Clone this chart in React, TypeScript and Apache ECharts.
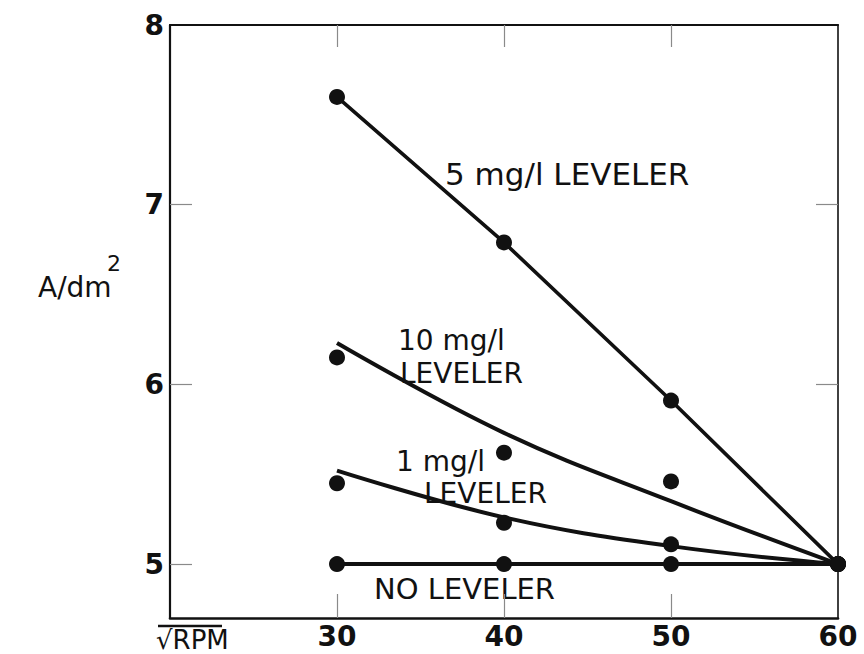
import React, { useEffect, useRef } from "react";
import * as echarts from "echarts";

// x positions (sqrt RPM)
const xValues = [30, 40, 50, 60];
const xLabelValues = [30, 40, 50, 60];
const yLabelValues = [5, 6, 7, 8];

// measured points (A/dm2)
const leveler5 = [7.6, 6.79, 5.91, 5.0];
const leveler10Points = [6.15, 5.62, 5.46, 5.0];
const leveler10Fit = [6.23, 5.73, 5.35, 5.0];
const leveler1Points = [5.45, 5.23, 5.11, 5.0];
const leveler1Fit = [5.52, 5.26, 5.1, 5.0];
const noLeveler = [5.0, 5.0, 5.0, 5.0];

const pairs = (ys: number[]) => xValues.map((x, i) => [x, ys[i]]);

const INK = "#111111";
const FONT = "DejaVu Sans, Liberation Sans, sans-serif";

export default function App() {
  const ref = useRef<HTMLDivElement>(null);
  useEffect(() => {
    if (!ref.current) return;
    const chart = echarts.init(ref.current, undefined, { renderer: "svg" });
    const tickStyle = { color: "#8a8a8a", width: 1.2 };
    const frame = { color: INK, width: 2.2 };
    const curve = (data: number[][], w: number, smooth: number | boolean) => ({
      type: "line",
      data,
      smooth,
      showSymbol: false,
      symbol: "none",
      lineStyle: { color: INK, width: w },
      z: 3,
    });
    const dots = (data: number[][]) => ({
      type: "scatter",
      data,
      symbol: "circle",
      symbolSize: 16,
      itemStyle: { color: INK, opacity: 1 },
      z: 4,
    });
    const text = (t: string, x: number, y: number, size = 30, weight = "normal") => ({
      type: "text",
      x,
      y,
      style: {
        text: t,
        font: `${weight} ${size}px ${FONT}`,
        fill: INK,
        textAlign: "left",
        textVerticalAlign: "middle",
      },
    });
    const labelStyle = { fontSize: 28, fontWeight: "bold", color: INK, fontFamily: FONT };
    chart.setOption({
      animation: false,
      backgroundColor: "#ffffff",
      grid: { left: 170, right: 26, top: 25, bottom: 36, containLabel: false, outerBoundsMode: "none" },
      xAxis: [
        {
          type: "value",
          min: 20,
          max: 60,
          position: "bottom",
          axisLine: { show: true, onZero: false, lineStyle: { color: INK, width: 2.6 } },
          axisTick: { show: true, inside: true, length: 24, customValues: [30, 40, 50], lineStyle: tickStyle },
          axisLabel: { show: true, customValues: xLabelValues, margin: 4, ...labelStyle },
          splitLine: { show: false },
        },
        {
          type: "value",
          min: 20,
          max: 60,
          position: "top",
          axisLine: { show: true, onZero: false, lineStyle: frame },
          axisTick: { show: true, inside: true, length: 22, customValues: [30, 40, 50], lineStyle: tickStyle },
          axisLabel: { show: false },
          splitLine: { show: false },
        },
      ],
      yAxis: [
        {
          type: "value",
          min: 4.7,
          max: 8,
          position: "left",
          axisLine: { show: true, onZero: false, lineStyle: frame },
          axisTick: { show: true, inside: true, length: 22, customValues: [5, 6, 7], lineStyle: tickStyle },
          axisLabel: { show: true, customValues: yLabelValues, margin: 6, ...labelStyle },
          splitLine: { show: false },
        },
        {
          type: "value",
          min: 4.7,
          max: 8,
          position: "right",
          axisLine: { show: true, onZero: false, lineStyle: { color: INK, width: 1.6 } },
          axisTick: { show: true, inside: true, length: 22, customValues: [6, 7], lineStyle: tickStyle },
          axisLabel: { show: false },
          splitLine: { show: false },
        },
      ],
      series: [
        curve(pairs(leveler5), 3.6, false),
        curve(pairs(leveler10Fit), 4, 0.4),
        curve(pairs(leveler1Fit), 4, 0.4),
        curve(pairs(noLeveler), 4, false),
        dots(pairs(leveler5)),
        dots(pairs(leveler10Points)),
        dots(pairs(leveler1Points)),
        dots(pairs(noLeveler)),
      ],
      graphic: [
        text("5 mg/l LEVELER", 445, 174, 31),
        text("10 mg/l", 398, 340, 28),
        text("LEVELER", 400, 373, 28),
        text("1 mg/l", 396, 461, 28),
        text("LEVELER", 424, 493, 28),
        text("NO LEVELER", 374, 589, 29),
        text("A/dm", 38, 287, 28),
        text("2", 107, 263, 22),
        text("√RPM", 156, 640, 26),
        {
          type: "line",
          shape: { x1: 158, y1: 626, x2: 222, y2: 626 },
          style: { stroke: INK, lineWidth: 2.4 },
        },
      ],
    });
    return () => chart.dispose();
  }, []);
  return <div ref={ref} style={{ width: 864, height: 654, position: "absolute", left: 0, top: 0, background: "#fff" }} />;
}
